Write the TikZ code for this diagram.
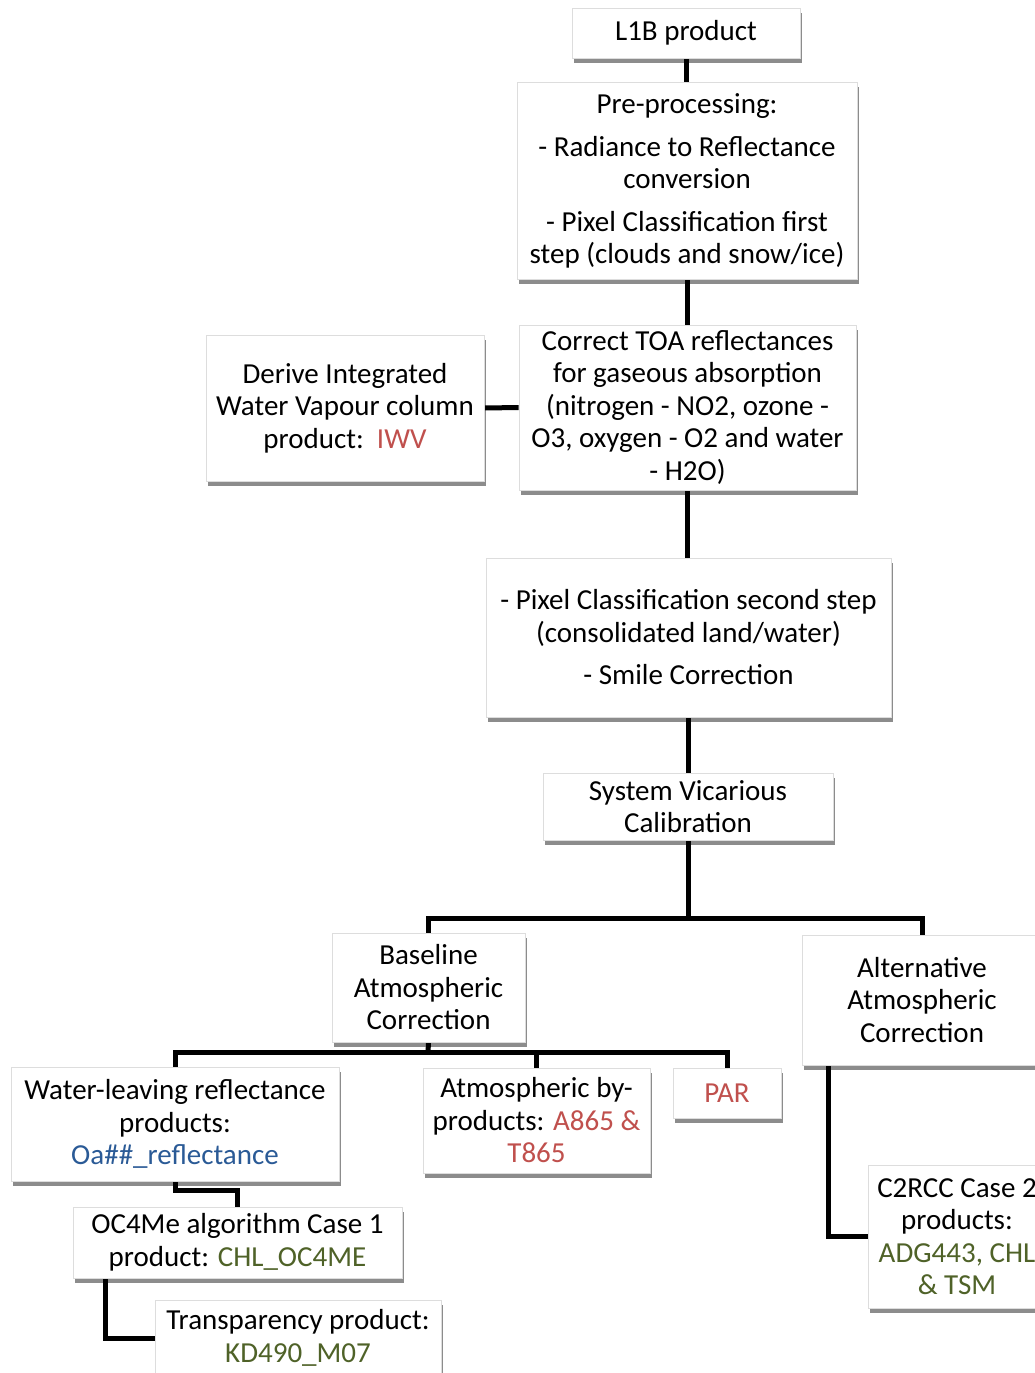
\documentclass[tikz,border=0pt]{standalone}
\usepackage{fontspec}
\setmainfont{Carlito}
\usepackage{xcolor}
\usepackage{tikz}
\usetikzlibrary{calc,shadows,backgrounds}
\definecolor{s3Red}{HTML}{C0504D}
\definecolor{s3Blue}{HTML}{2A5A96}
\definecolor{s3Green}{HTML}{4F6228}
\definecolor{s3Edge}{HTML}{DDDDDD}

\begin{document}
\begin{tikzpicture}[
    x=1pt, y=-1pt,
    blk/.style={draw=s3Edge, line width=0.8pt, fill=white, inner sep=0pt,
                align=center, font=\fontsize{29}{32.5}\selectfont,
                drop shadow={shadow xshift=1.5pt, shadow yshift=-4.5pt,
                             opacity=0.45, fill=black}},
    wire/.style={line width=5pt, black},
  ]
  \useasboundingbox (0,0) rectangle (1035,1373);

  \node[blk, minimum width=228, minimum height=50] (l1b) at (686,33) {L1B product};
  \node[blk, minimum width=340, minimum height=197] (pre) at (687,181)
    {Pre-processing:\\[10.5pt]- Radiance to Reflectance\\conversion\\[10pt]
     - Pixel Classification first\\step (clouds and snow/ice)};
  \node[blk, minimum width=337, minimum height=165] (toa) at (687.5,407.5)
    {Correct TOA reflectances\\for gaseous absorption\\(nitrogen - NO2, ozone -\\
     O3, oxygen - O2 and water\\- H2O)};
  \node[blk, minimum width=278, minimum height=146] (iwv) at (345,408)
    {Derive Integrated\\Water Vapour column\\product:\ \ \textcolor{s3Red}{IWV}};
  \node[blk, minimum width=405, minimum height=159] (pix2) at (688.5,637.5)
    {- Pixel Classification second step\\(consolidated land/water)\\[10pt]- Smile Correction};
  \node[blk, minimum width=290, minimum height=67] (svc) at (688,806.5)
    {System Vicarious\\Calibration};
  \node[blk, minimum width=193, minimum height=109] (base) at (428.5,987.5)
    {Baseline\\Atmospheric\\Correction};
  \node[blk, minimum width=240, minimum height=130] (alt) at (922,1000)
    {Alternative\\Atmospheric\\Correction};
  \node[blk, minimum width=328, minimum height=114] (wlr) at (175,1124)
    {Water-leaving reflectance\\products:\\\textcolor{s3Blue}{Oa\#\#\_reflectance}};
  \node[blk, minimum width=227, minimum height=105] (atm) at (536.5,1120.5)
    {Atmospheric by-\\products: \textcolor{s3Red}{A865 \&}\\\textcolor{s3Red}{T865}};
  \node[blk, minimum width=108, minimum height=50] (par) at (727,1093)
    {\textcolor{s3Red}{PAR}};
  \node[blk, minimum width=329, minimum height=71] (oc4) at (237.5,1242.5)
    {OC4Me algorithm Case 1\\product: \textcolor{s3Green}{CHL\_OC4ME}};
  \node[blk, minimum width=286, minimum height=76] (trn) at (298,1338)
    {Transparency product:\\\textcolor{s3Green}{KD490\_M07}};
  \node[blk, minimum width=178, minimum height=143] (c2r) at (957,1236.5)
    {C2RCC Case 2\\products:\\\textcolor{s3Green}{ADG443, CHL}\\\textcolor{s3Green}{\& TSM}};

  \coordinate (split1) at (688,918);
  \coordinate (split2) at (428,1052);

  \begin{scope}[on background layer]
    \draw[wire] (l1b.south) -- (l1b.south |- pre.north);
    \draw[wire] (pre.south) -- (pre.south |- toa.north);
    \draw[wire] (iwv.east) -- (toa.west);
    \draw[wire] (toa.south) -- (toa.south |- pix2.north);
    \draw[wire] (pix2.south) -- (pix2.south |- svc.north);
    \draw[wire] (svc.south) -- (split1);
    \draw[wire] (base.north) -- (base.north |- split1) -- (alt.north |- split1) -- (alt.north);
    \draw[wire] (base.south) -- (split2);
    \draw[wire] (wlr.north) -- (wlr.north |- split2) -- (par.north |- split2) -- (par.north);
    \draw[wire] (atm.north) -- (atm.north |- split2);
    \draw[wire] (wlr.south) -- ++(0,9) -| (oc4.north);
    \draw[wire] ($(oc4.south west)!0.1!(oc4.south east)$) |- (trn.west);
    \draw[wire] ($(alt.south west)!0.11!(alt.south east)$) |- (c2r.west);
  \end{scope}

\end{tikzpicture}
\end{document}
